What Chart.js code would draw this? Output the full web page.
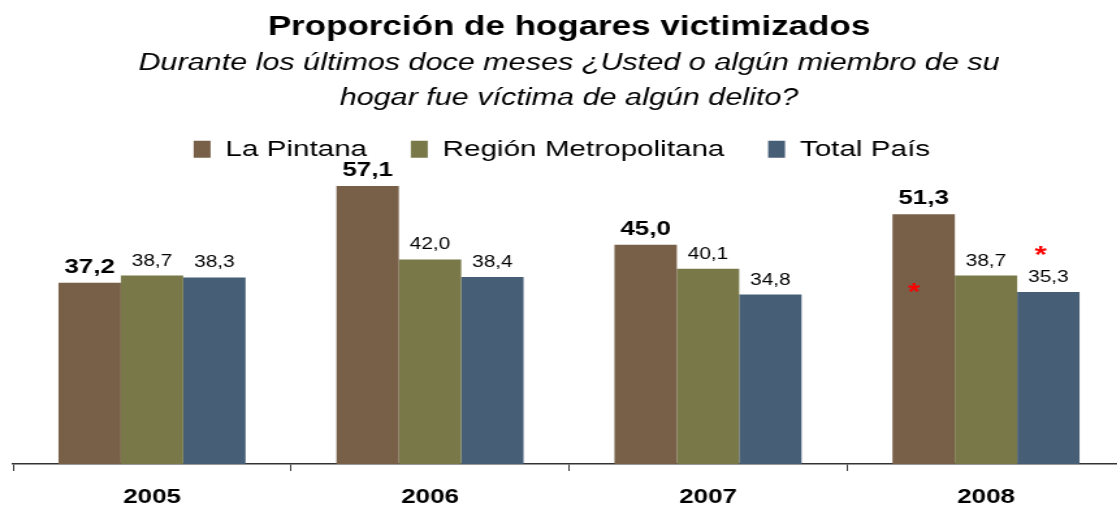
<!DOCTYPE html>
<html>
<head>
<meta charset="utf-8">
<script src="https://cdn.jsdelivr.net/npm/chart.js@4.4.0/dist/chart.umd.min.js"></script>
<style>
html,body{margin:0;padding:0;background:#fff;overflow:hidden;}
#wrap{width:1138px;height:506px;overflow:hidden;}
#c{display:block;width:1138px;height:506px;}
</style>
</head>
<body>
<div id="wrap"><canvas id="c" width="875" height="506" style="width:1138px;height:506px"></canvas></div>
<script>
const categories = ['2005', '2006', '2007', '2008'];
const laPintana = [37.2, 57.1, 45.0, 51.3];
const regionMetropolitana = [38.7, 42.0, 40.1, 38.7];
const totalPais = [38.3, 38.4, 34.8, 35.3];
const seriesNames = ['La Pintana', 'Región Metropolitana', 'Total País'];
const colors = ['#775F48', '#787848', '#475E77'];

const FONT = "Arial, 'Liberation Sans', sans-serif";
const PX_PER_UNIT = 4.87;
const LEGEND_SHIFT = -5.5;

const fitY = {
  id: 'fitY',
  afterLayout(chart) {
    const y = chart.scales.y;
    const ca = chart.chartArea;
    y.min = 0;
    y.max = (ca.bottom - ca.top) / PX_PER_UNIT;
    y.configure();
    if (chart.legend) {
      chart.legend.left += LEGEND_SHIFT;
      chart.legend.right += LEGEND_SHIFT;
    }
  }
};

const labelPlugin = {
  id: 'valueLabels',
  afterDatasetsDraw(chart) {
    const ctx = chart.ctx;
    ctx.save();
    ctx.textAlign = 'center';
    ctx.textBaseline = 'alphabetic';
    chart.data.datasets.forEach((ds, di) => {
      const meta = chart.getDatasetMeta(di);
      meta.data.forEach((bar, i) => {
        const v = ds.data[i];
        const txt = v.toFixed(1).replace('.', ',');
        ctx.font = di === 0 ? 'bold 20px ' + FONT : '16px ' + FONT;
        ctx.fillStyle = '#000';
        ctx.fillText(txt, bar.x, bar.y - 10);
      });
    });
    // red asterisks (2008)
    const y = chart.scales.y;
    ctx.fillStyle = '#FF0000';
    ctx.font = 'bold 24px ' + FONT;
    const b0 = chart.getDatasetMeta(0).data[3];
    const b2 = chart.getDatasetMeta(2).data[3];
    ctx.fillText('*', b0.x - 7.5, y.getPixelForValue(33.6));
    ctx.fillText('*', b2.x - 6, y.getPixelForValue(41.2));
    ctx.restore();
  }
};

new Chart(document.getElementById('c'), {
  type: 'bar',
  data: {
    labels: categories,
    datasets: [
      { label: seriesNames[0], data: laPintana, backgroundColor: colors[0] },
      { label: seriesNames[1], data: regionMetropolitana, backgroundColor: colors[1] },
      { label: seriesNames[2], data: totalPais, backgroundColor: colors[2] }
    ]
  },
  options: {
    responsive: false,
    animation: false,
    devicePixelRatio: 1,
    layout: { padding: { left: 10, right: 10, top: 0, bottom: -17 } },
    datasets: { bar: { categoryPercentage: 0.673, barPercentage: 1.0, clip: false } },
    plugins: {
      title: {
        display: true,
        text: 'Proporción de hogares victimizados',
        color: '#000',
        font: { family: FONT, size: 26.9, weight: 'bold', lineHeight: 1.2 },
        padding: { top: 11, bottom: 3 }
      },
      subtitle: {
        display: true,
        text: ['Durante los últimos doce meses ¿Usted o algún miembro de su', 'hogar fue víctima de algún delito?'],
        color: '#000',
        font: { family: FONT, size: 23.5, style: 'italic', lineHeight: 1.49 },
        padding: { top: 0, bottom: -12 }
      },
      legend: {
        display: true,
        labels: {
          color: '#000',
          font: { family: FONT, size: 22.8 },
          boxWidth: 13,
          boxHeight: 17,
          padding: 33.6
        }
      },
      tooltip: { enabled: false }
    },
    scales: {
      x: {
        grid: {
          display: true,
          drawOnChartArea: false,
          drawTicks: true,
          tickLength: 7,
          color: '#333',
          offset: true
        },
        border: { display: true, color: '#333', width: 1.5 },
        ticks: {
          color: '#000',
          font: { family: FONT, size: 20, weight: 'bold' },
          padding: 14
        }
      },
      y: {
        display: false,
        min: 0,
        max: 60
      }
    }
  },
  plugins: [fitY, labelPlugin]
});
</script>
</body>
</html>
